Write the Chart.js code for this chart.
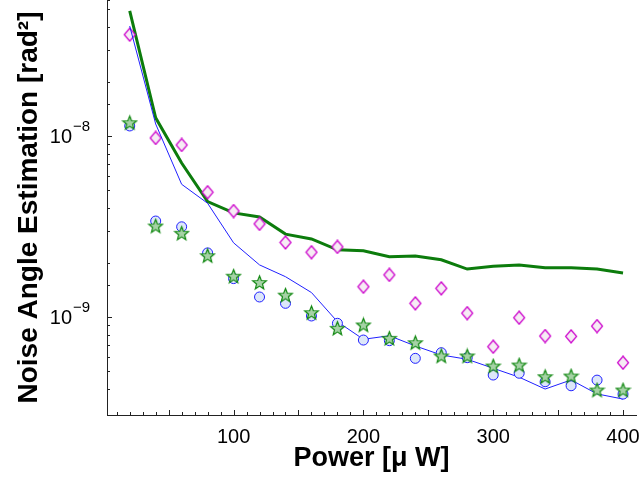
<!DOCTYPE html>
<html>
<head>
<meta charset="utf-8">
<script src="https://cdn.jsdelivr.net/npm/chart.js@4.4.0/dist/chart.umd.min.js"></script>
<style>
  body { margin: 0; background: #fff; }
  #chart { display: block; }
</style>
</head>
<body>
<canvas id="chart" width="644" height="478"></canvas>
<script>
// Power values [uW]
const power = [20, 40, 60, 80, 100, 120, 140, 160, 180, 200, 220, 240, 260, 280, 300, 320, 340, 360, 380, 400];

// Thick green line
const greenLine = [4.91e-8, 1.26e-8, 7.09e-9, 4.34e-9, 3.76e-9, 3.57e-9, 2.87e-9, 2.70e-9, 2.35e-9, 2.32e-9,
  2.15e-9, 2.17e-9, 2.07e-9, 1.84e-9, 1.91e-9, 1.94e-9, 1.87e-9, 1.87e-9, 1.84e-9, 1.75e-9];

// Thin blue line
const blueLine = [4.05e-8, 1.165e-8, 5.41e-9, 4.25e-9, 2.57e-9, 1.94e-9, 1.67e-9, 1.365e-9, 9.42e-10, 7.53e-10,
  7.88e-10, 6.92e-10, 6.17e-10, 5.84e-10, 5.21e-10, 4.65e-10, 4.00e-10, 4.49e-10, 3.76e-10, 3.52e-10];

// Magenta diamonds
const diamonds = [3.63e-8, 9.75e-9, 8.92e-9, 4.89e-9, 3.85e-9, 3.27e-9, 2.58e-9, 2.28e-9, 2.44e-9, 1.47e-9,
  1.71e-9, 1.19e-9, 1.44e-9, 1.05e-9, 6.85e-10, 9.91e-10, 7.85e-10, 7.82e-10, 8.91e-10, 5.59e-10];

// Blue circles
const circles = [1.136e-8, 3.39e-9, 3.15e-9, 2.26e-9, 1.63e-9, 1.29e-9, 1.19e-9, 1.013e-9, 9.23e-10, 7.46e-10,
  7.40e-10, 5.91e-10, 6.35e-10, 5.96e-10, 4.78e-10, 4.89e-10, 4.39e-10, 4.17e-10, 4.48e-10, 3.75e-10];

// Green stars
const stars = [1.184e-8, 3.18e-9, 2.90e-9, 2.18e-9, 1.68e-9, 1.55e-9, 1.32e-9, 1.057e-9, 8.66e-10, 9.04e-10,
  7.62e-10, 7.21e-10, 6.09e-10, 6.09e-10, 5.36e-10, 5.43e-10, 4.68e-10, 4.72e-10, 3.95e-10, 3.95e-10];

// Axis ranges and ticks
const xMin = 2.5, xMax = 410;
const yMin = 2.875e-10, yMax = 5.64e-8;
const xMajorTicks = [50, 100, 150, 200, 250, 300, 350, 400];
const xLabelTicks = [100, 200, 300, 400];
const yLabelExps = [-8, -9];

const FONT = "'Liberation Sans', Arial, Helvetica, sans-serif";

function toPoints(ys) {
  return power.map((x, i) => ({ x: x, y: ys[i] }));
}

// marker images
function makeStar() {
  const c = document.createElement('canvas');
  c.width = 17; c.height = 17;
  const g = c.getContext('2d');
  const cx = 8.5, cy = 9, ro = 7.2, ri = 3.1;
  g.beginPath();
  for (let i = 0; i < 10; i++) {
    const r = i % 2 === 0 ? ro : ri;
    const a = -Math.PI / 2 + i * Math.PI / 5;
    const px = cx + r * Math.cos(a), py = cy + r * Math.sin(a);
    if (i === 0) g.moveTo(px, py); else g.lineTo(px, py);
  }
  g.closePath();
  g.fillStyle = '#a6d2a6';
  g.fill();
  g.strokeStyle = '#118811';
  g.lineWidth = 1.2;
  g.stroke();
  return c;
}

function makeDiamond() {
  const c = document.createElement('canvas');
  c.width = 14; c.height = 15;
  const g = c.getContext('2d');
  g.beginPath();
  g.moveTo(7, 1);
  g.lineTo(12.5, 7.5);
  g.lineTo(7, 14);
  g.lineTo(1.5, 7.5);
  g.closePath();
  g.fillStyle = '#f6ecf4';
  g.fill();
  g.strokeStyle = '#cc00cc';
  g.lineWidth = 1.2;
  g.stroke();
  return c;
}

// inward ticks + superscript y labels
const axisDecor = {
  id: 'axisDecor',
  afterDraw(chart) {
    const ctx = chart.ctx;
    const xs = chart.scales.x, ys = chart.scales.y;
    const area = chart.chartArea;
    ctx.save();
    ctx.strokeStyle = '#222';
    ctx.lineWidth = 1;

    // x ticks
    for (let v = 10; v <= 400; v += 10) {
      const px = Math.round(xs.getPixelForValue(v)) + 0.5;
      const len = xMajorTicks.includes(v) ? 5 : 3;
      ctx.beginPath();
      ctx.moveTo(px, area.bottom);
      ctx.lineTo(px, area.bottom - len);
      ctx.stroke();
    }

    // y ticks
    ys.ticks.forEach(t => {
      const v = t.value;
      if (v < yMin || v > yMax) return;
      const exp = Math.log10(v);
      const major = Math.abs(exp - Math.round(exp)) < 1e-6;
      const py = Math.round(ys.getPixelForValue(v)) + 0.5;
      ctx.beginPath();
      ctx.moveTo(area.left, py);
      ctx.lineTo(area.left + (major ? 5 : 3), py);
      ctx.stroke();
    });

    // y labels 10^n
    ctx.fillStyle = '#000';
    yLabelExps.forEach(e => {
      const py = ys.getPixelForValue(Math.pow(10, e));
      ctx.font = '20px ' + FONT;
      ctx.textAlign = 'right';
      ctx.textBaseline = 'middle';
      ctx.fillText('10', 72, py + 1);
      ctx.font = '15px ' + FONT;
      ctx.textAlign = 'left';
      ctx.fillText('\u2212' + Math.abs(e), 73, py - 9);
    });
    ctx.restore();
  }
};

const ctx = document.getElementById('chart').getContext('2d');
new Chart(ctx, {
  type: 'scatter',
  data: {
    datasets: [
      {
        label: 'stars',
        data: toPoints(stars),
        pointStyle: makeStar(),
        pointRadius: 7,
        showLine: false,
        order: 0
      },
      {
        label: 'circles',
        data: toPoints(circles),
        pointStyle: 'circle',
        pointRadius: 5,
        pointBorderWidth: 1,
        pointBorderColor: '#2020ff',
        pointBackgroundColor: '#dde7f9',
        showLine: false,
        order: 1
      },
      {
        label: 'blue',
        data: toPoints(blueLine),
        showLine: true,
        borderColor: '#2020ff',
        borderWidth: 1,
        pointRadius: 0,
        fill: false,
        order: 2
      },
      {
        label: 'diamonds',
        data: toPoints(diamonds),
        pointStyle: makeDiamond(),
        pointRadius: 7,
        showLine: false,
        order: 3
      },
      {
        label: 'green',
        data: toPoints(greenLine),
        showLine: true,
        borderColor: '#0c7c0c',
        borderWidth: 3,
        pointRadius: 0,
        fill: false,
        order: 4
      }
    ]
  },
  options: {
    responsive: false,
    animation: false,
    layout: { autoPadding: false, padding: { left: 0, right: 8, top: 0, bottom: 0 } },
    plugins: {
      legend: { display: false },
      tooltip: { enabled: false }
    },
    scales: {
      x: {
        type: 'linear',
        min: xMin,
        max: xMax,
        grid: { display: false },
        border: { display: true, color: '#222', width: 1 },
        afterBuildTicks: s => { s.ticks = xLabelTicks.map(v => ({ value: v })); },
        ticks: {
          autoSkip: false,
          maxRotation: 0,
          padding: 2,
          color: '#000',
          font: { family: FONT, size: 20 }
        },
        title: {
          display: true,
          text: 'Power [\u03bc W]',
          color: '#000',
          font: { family: FONT, size: 27, weight: 'bold' },
          padding: { top: 0, bottom: 3 }
        },
        afterFit: s => { s.height = 63; }
      },
      y: {
        type: 'logarithmic',
        min: yMin,
        max: yMax,
        grid: { display: false },
        border: { display: true, color: '#222', width: 1 },
        ticks: { display: false },
        title: {
          display: true,
          text: 'Noise Angle Estimation [rad\u00b2]',
          color: '#000',
          font: { family: FONT, size: 28, weight: 'bold' },
          padding: { top: 12, bottom: 0 }
        },
        afterFit: s => { s.width = 107; }
      }
    }
  },
  plugins: [axisDecor]
});
</script>
</body>
</html>
